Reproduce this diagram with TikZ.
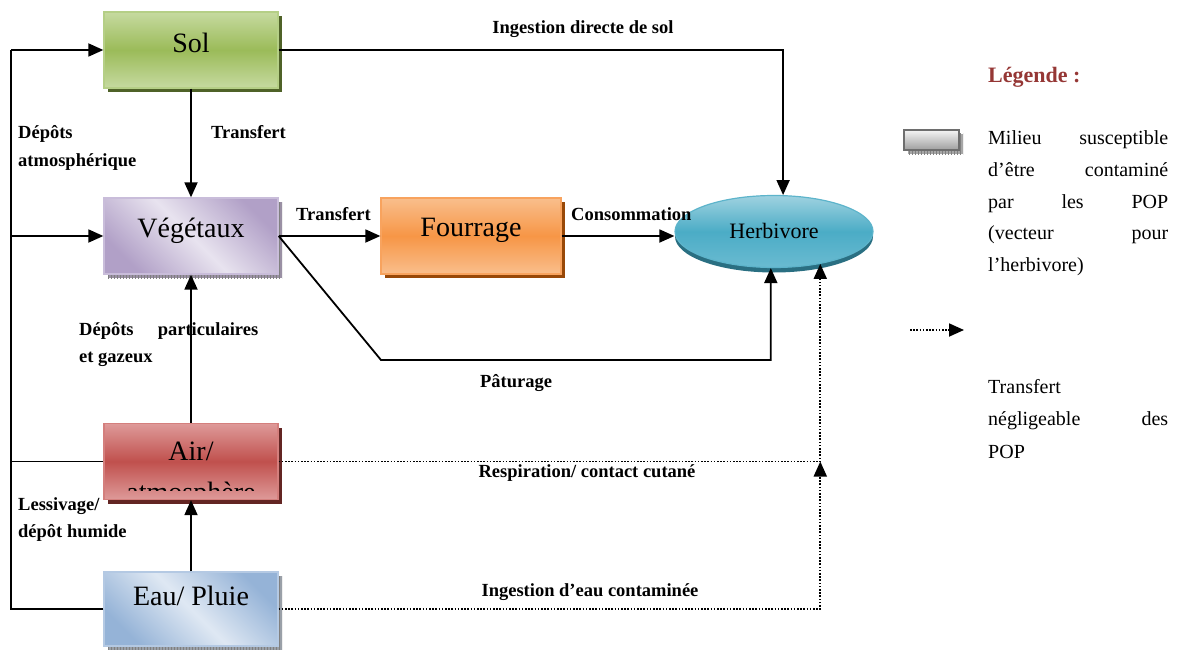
\documentclass[tikz,border=0pt]{standalone}
\usepackage{fontspec}
\setmainfont{Liberation Serif}
\usetikzlibrary{arrows.meta,shapes.geometric,shadows,patterns}

% fills, edges and shadows of the compartments
\definecolor{solLight}{HTML}{C6DAA0}
\definecolor{solMid}{HTML}{9BBB59}
\definecolor{solEdge}{HTML}{B5CF86}
\definecolor{solShadow}{HTML}{4F6228}
\definecolor{vegDark}{HTML}{B1A0C7}
\definecolor{vegLight}{HTML}{E8E3EF}
\definecolor{vegEdge}{HTML}{C9BDDA}
\definecolor{vegShadow}{HTML}{9A90A4}
\definecolor{fouLight}{HTML}{F9BE8C}
\definecolor{fouMid}{HTML}{F79646}
\definecolor{fouEdge}{HTML}{F8A35E}
\definecolor{fouShadow}{HTML}{984807}
\definecolor{herbTop}{HTML}{9FD2E0}
\definecolor{herbMid}{HTML}{4BACC6}
\definecolor{herbBot}{HTML}{6ABBD1}
\definecolor{herbEdge}{HTML}{5DB4CB}
\definecolor{herbShadow}{HTML}{2A6F82}
\definecolor{airLight}{HTML}{DE9A99}
\definecolor{airMid}{HTML}{C0504D}
\definecolor{airEdge}{HTML}{D47F7D}
\definecolor{airShadow}{HTML}{632523}
\definecolor{eauDark}{HTML}{95B3D7}
\definecolor{eauLight}{HTML}{DFE8F3}
\definecolor{eauEdge}{HTML}{B4C9E3}
\definecolor{eauShadow}{HTML}{9AA0A8}
\definecolor{legRed}{HTML}{953735}
\definecolor{legEdge}{HTML}{6E6E6E}

\begin{document}
\begin{tikzpicture}[x=1pt,y=-1pt,
  tickshadow/.style={
    general shadow={fill=#1, shadow xshift=4pt, shadow yshift=-4pt},
    general shadow={pattern=vertical lines, pattern color=black!50, shadow xshift=4pt, shadow yshift=-4pt}},
  solidshadow/.style={general shadow={fill=#1, shadow xshift=4pt, shadow yshift=-4pt}},
  box/.style={rectangle, minimum width=174pt, minimum height=76pt, inner sep=0pt, line width=1.3pt},
  solbox/.style={box, draw=solEdge, top color=solLight, bottom color=solLight, middle color=solMid, solidshadow=solShadow},
  vegbox/.style={box, draw=vegEdge, tickshadow=vegShadow, left color=vegDark, right color=vegDark, middle color=vegLight, shading angle=-45},
  foubox/.style={box, draw=fouEdge, top color=fouLight, bottom color=fouLight, middle color=fouMid, solidshadow=fouShadow},
  airbox/.style={box, draw=airEdge, top color=airLight, bottom color=airLight, middle color=airMid, solidshadow=airShadow},
  eaubox/.style={box, draw=eauEdge, tickshadow=eauShadow, left color=eauDark, right color=eauDark, middle color=eauLight, shading angle=-45},
  herbshape/.style={ellipse, minimum width=198pt, minimum height=72pt, inner sep=0pt, line width=1.2pt, draw=herbEdge,
    top color=herbTop, bottom color=herbBot, middle color=herbMid,
    general shadow={fill=herbShadow, shadow yshift=-5pt}},
  legbox/.style={rectangle, minimum width=55pt, minimum height=20pt, inner sep=0pt, line width=1.6pt, draw=legEdge,
    top color=black!4, bottom color=black!38, tickshadow=black!35},
  boxtxt/.style={font=\fontsize{28}{30}\selectfont, inner sep=0pt, anchor=base},
  lbl/.style={font=\fontsize{18.5}{20}\selectfont\bfseries, inner sep=0pt},
  leg/.style={font=\fontsize{20}{22}\selectfont, inner sep=0pt, anchor=base west},
  ln/.style={line width=1.8pt},
  arr/.style={line width=1.8pt, -{Triangle[length=15pt,width=13pt]}},
  dotarr/.style={line width=1.8pt, dash pattern=on 1.6pt off 1.6pt, -{Triangle[length=15pt,width=13pt]}}
]
\useasboundingbox (0,0) rectangle (1183,650);

% compartments
\node[solbox] (sol) at (191,50) {};
\node[vegbox] (veg) at (191,236) {};
\node[foubox, minimum width=180pt] (four) at (471,236) {};
\node[airbox] (air) at (191,461.5) {};
\node[eaubox, minimum height=74pt] (eau) at (191,609) {};
\node[herbshape] (herb) at (774,231.5) {};

% compartment names
\node[boxtxt] (tSol) at (191,53) {Sol};
\node[boxtxt] (tVeg) at (191,237) {Végétaux};
\node[boxtxt] (tFour) at (471,236) {Fourrage};
\node[boxtxt, font=\fontsize{22}{24}\selectfont] (tHerb) at (774,238) {Herbivore};
\begin{scope}
  \clip (air.north west) rectangle ([yshift=10pt]air.south east);
  \node[boxtxt] (tAir1) at (191,460) {Air/};
  \node[boxtxt] (tAir2) at (191,501) {atmosphère};
\end{scope}
\node[boxtxt] (tEau) at (191,605) {Eau/ Pluie};

% left collector line
\coordinate (trunkTop) at (11,50);
\coordinate (trunkBot) at (11,609);
\draw[ln] (eau.west) -- (trunkBot) -- (trunkTop);
\draw[arr] (trunkTop) -- (sol.west);
\draw[arr] (trunkTop |- veg.west) -- (veg.west);
\draw[ln] (air.west) -- (trunkTop |- air.west);

% vertical transfers
\draw[arr] (sol.south) -- (veg.north);
\draw[arr] (air.north) -- (veg.south);
\draw[arr] (eau.north) -- (air.south);

% transfers toward the herbivore
\draw[arr] (veg.east) -- (four.west);
\draw[arr] (four.east) -- (four.east -| herb.west);
\draw[arr] (sol.east) -| (herb.76);
\coordinate (bend) at (381,360);
\draw[arr] (veg.east) -- (bend) -| (herb.265);
\draw[dotarr] (air.east) -| (herb.325);
\draw[dotarr] (eau.east) -| (air.east -| herb.325);

% connector labels
\node[lbl] (lIng) at (583,29) {Ingestion directe de sol};
\node[lbl, anchor=base west] (lTr1) at (211,139) {Transfert};
\node[lbl, anchor=base west] (lDep1) at (18,139) {Dépôts};
\node[lbl, anchor=base west] (lDep2) at (18,166) {atmosphérique};
\node[lbl, anchor=base west] (lTr2) at (296,220) {Transfert};
\node[lbl, anchor=base west] (lCons) at (571,220) {Consommation};
\node[lbl, anchor=base west] (lPart1) at (79,335) {\hbox to 179pt{Dépôts\hfill particulaires}};
\node[lbl, anchor=base west] (lPart2) at (79,362) {et gazeux};
\node[lbl] (lPat) at (516,383) {Pâturage};
\node[lbl] (lResp) at (587,473) {Respiration/ contact cutané};
\node[lbl, anchor=base west] (lLes1) at (18,510) {Lessivage/};
\node[lbl, anchor=base west] (lLes2) at (18,537) {dépôt humide};
\node[lbl] (lEau) at (590,592) {Ingestion d’eau contaminée};

% legend
\node[font=\fontsize{22}{24}\selectfont\bfseries, text=legRed, anchor=base west, inner sep=0pt] (legTitle) at (988,83) {Légende :};
\node[legbox] (legBox) at (931.5,140) {};
\node[leg] (lg1) at (988,144) {\hbox to 180pt{Milieu\hfill susceptible}};
\node[leg] (lg2) at (988,176) {\hbox to 180pt{d’être\hfill contaminé}};
\node[leg] (lg3) at (988,208) {\hbox to 180pt{par\hfill les\hfill POP}};
\node[leg] (lg4) at (988,239) {\hbox to 180pt{(vecteur\hfill pour}};
\node[leg] (lg5) at (988,271) {l’herbivore)};
\coordinate (legArrA) at (910,330);
\coordinate (legArrB) at (964,330);
\draw[dotarr] (legArrA) -- (legArrB);
\node[leg] (lg6) at (988,393) {Transfert};
\node[leg] (lg7) at (988,425) {\hbox to 180pt{négligeable\hfill des}};
\node[leg] (lg8) at (988,458) {POP};
\end{tikzpicture}
\end{document}
